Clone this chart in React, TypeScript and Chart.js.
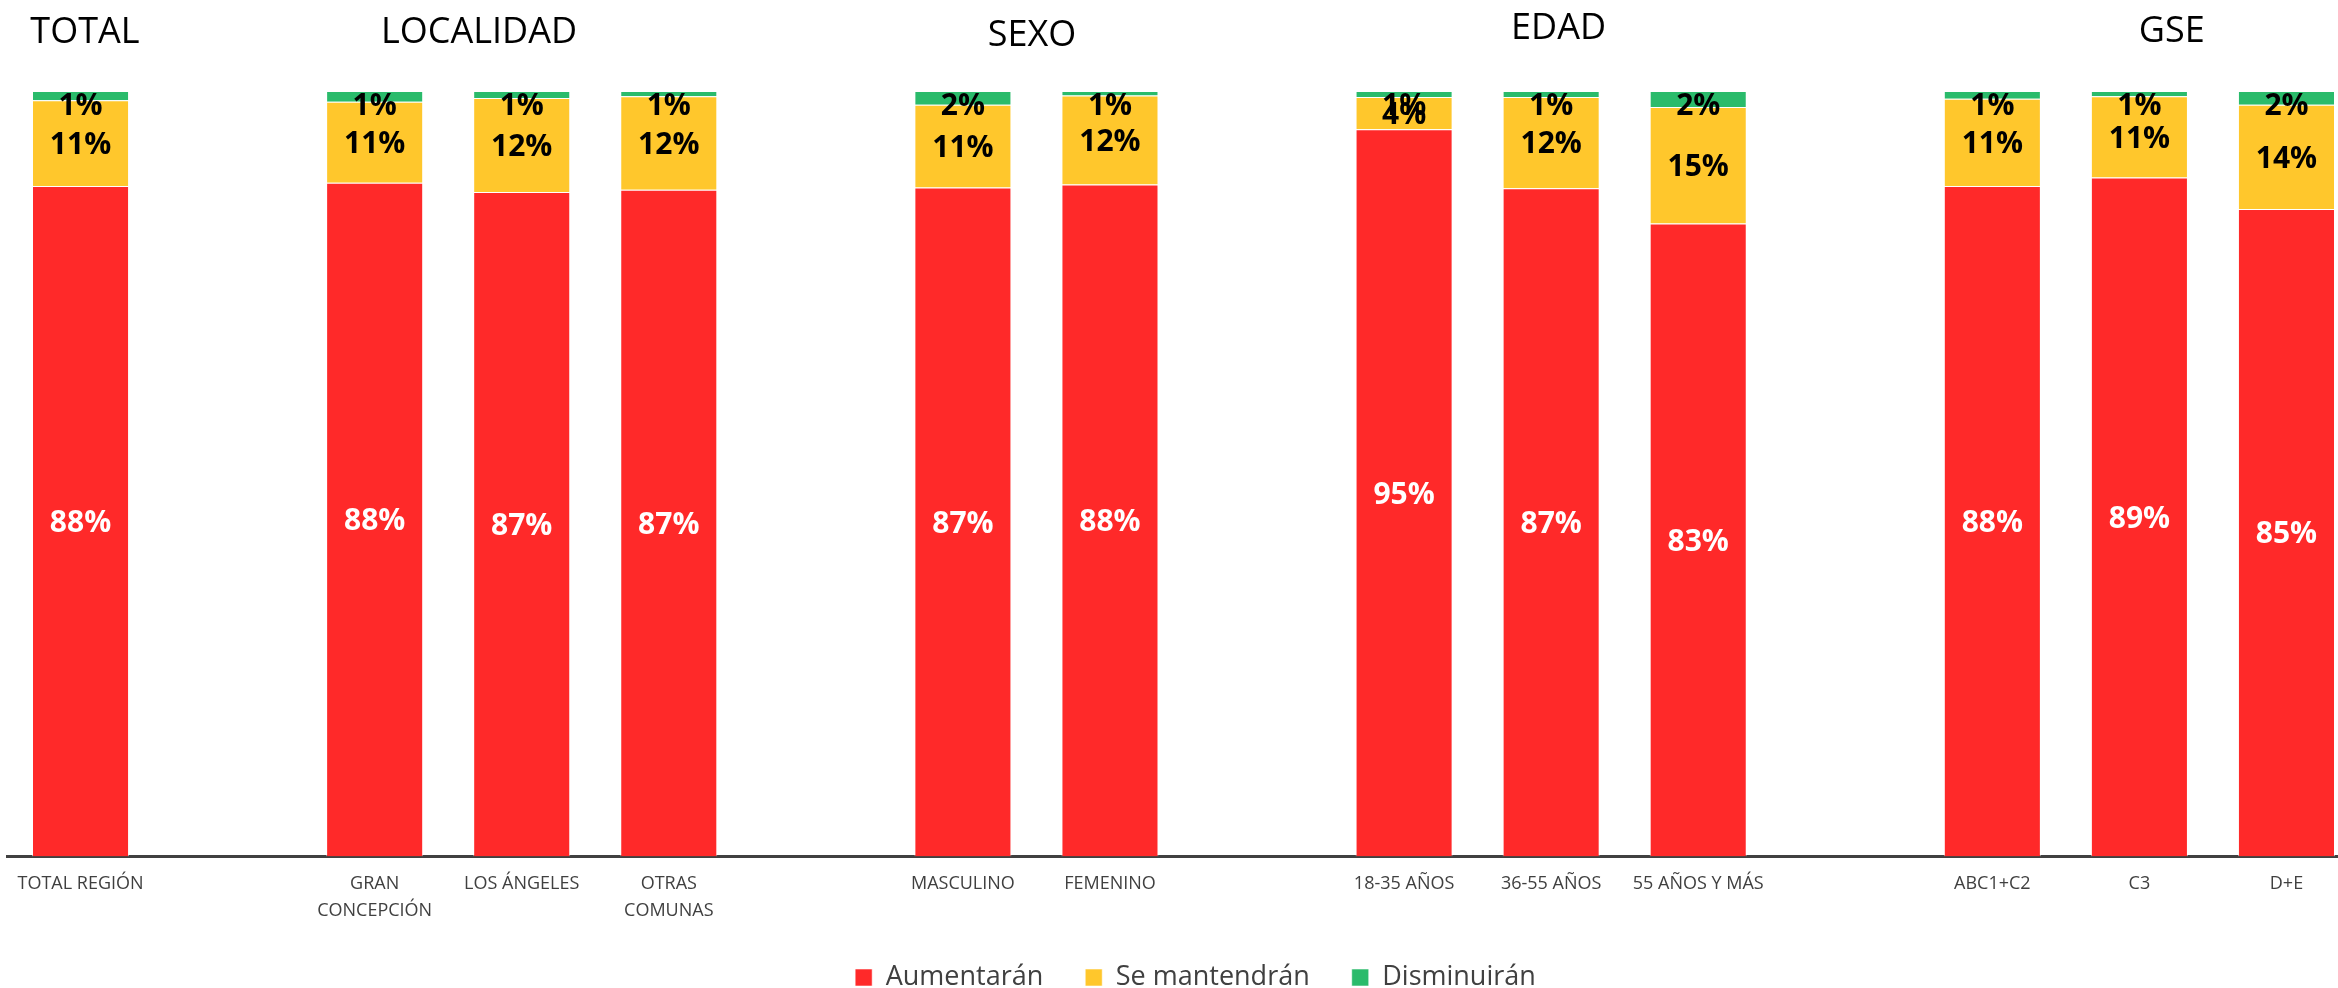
import React, { useEffect, useRef } from 'react';
import { Chart, registerables } from 'chart.js';

Chart.register(...registerables);

// ---------- DATA ----------
const categories: (string | string[])[] = [
  'TOTAL REGIÓN', '', ['GRAN', 'CONCEPCIÓN'], 'LOS ÁNGELES', ['OTRAS', 'COMUNAS'], '',
  'MASCULINO', 'FEMENINO', '', '18-35 AÑOS', '36-55 AÑOS', '55 AÑOS Y MÁS', '',
  'ABC1+C2', 'C3', 'D+E',
];
const aumentaran = [87.6, null, 88.0, 86.8, 87.1, null, 87.4, 87.8, null, 95.0, 87.3, 82.7, null, 87.6, 88.7, 84.6];
const seMantendran = [11.2, null, 10.6, 12.3, 12.2, null, 10.8, 11.6, null, 4.2, 11.9, 15.2, null, 11.4, 10.6, 13.6];
const disminuiran = [1.2, null, 1.4, 0.9, 0.7, null, 1.8, 0.6, null, 0.8, 0.8, 2.1, null, 1.0, 0.7, 1.8];
const seriesNames = ['Aumentarán', 'Se mantendrán', 'Disminuirán'];
const groupTitles = ['TOTAL', 'LOCALIDAD', 'SEXO', 'EDAD', 'GSE'];

// ---------- LAYOUT / STYLE ----------
const COLORS = ['#FF2929', '#FFC72C', '#2ABB6B'];
const FONT = '"Open Sans", "Noto Sans", sans-serif';
// title anchors (category units) and baselines
const titleAnchors = [0.03, 2.71, 6.47, 10.05, 14.22];
const titleBaselines = [43, 43, 46, 39, 42];

const titlePlugin = {
  id: 'groupTitles',
  afterDraw(chart: any) {
    const ctx = chart.ctx;
    const xs = chart.scales.x;
    ctx.save();
    ctx.font = `36px ${FONT}`;
    ctx.fillStyle = '#000000';
    ctx.textAlign = 'center';
    ctx.textBaseline = 'alphabetic';
    groupTitles.forEach((t, i) => {
      ctx.fillText(t, xs.getPixelForValue(titleAnchors[i]), titleBaselines[i]);
    });
    ctx.restore();
  },
};

const segLabelPlugin = {
  id: 'segLabels',
  afterDatasetsDraw(chart: any) {
    const ctx = chart.ctx;
    const top = chart.chartArea.top;
    ctx.save();
    ctx.font = `bold 30px ${FONT}`;
    ctx.textAlign = 'center';
    ctx.textBaseline = 'alphabetic';
    chart.data.datasets.forEach((ds: any, di: number) => {
      const meta = chart.getDatasetMeta(di);
      meta.data.forEach((el: any, i: number) => {
        const v = ds.data[i];
        if (v == null) return;
        const p = el.getProps(['x', 'y', 'base'], true);
        let cy = (p.y + p.base) / 2;
        cy = Math.max(cy, top + 13);
        ctx.fillStyle = di === 0 ? '#FFFFFF' : '#000000';
        ctx.fillText(Math.round(v) + '%', p.x, cy + 10.7);
      });
    });
    ctx.restore();
  },
};

const legendShiftPlugin = {
  id: 'legendShift',
  afterLayout(chart: any) {
    const l = chart.legend;
    if (l) {
      l.left += 12;
      l.right += 12;
      l.top -= 2.5;
      l.bottom -= 2.5;
    }
  },
};

export default function App() {
  const ref = useRef<HTMLCanvasElement | null>(null);

  useEffect(() => {
    if (!ref.current) return;
    const series = [aumentaran, seMantendran, disminuiran];
    const chart = new Chart(ref.current, {
      type: 'bar',
      data: {
        labels: categories,
        datasets: series.map((d, i) => ({
          label: seriesNames[i],
          data: d,
          backgroundColor: COLORS[i],
          borderColor: 'rgba(255,255,255,0.55)',
          borderWidth: 1,
          barPercentage: 0.66,
          categoryPercentage: 1,
        })),
      },
      options: {
        responsive: false,
        animation: false,
        devicePixelRatio: 1,
        layout: { padding: { top: 91, left: 7, right: 2, bottom: -15.5 } },
        plugins: {
          tooltip: { enabled: false },
          legend: {
            position: 'bottom',
            labels: {
              boxWidth: 17,
              boxHeight: 17,
              padding: 42,
              color: '#404040',
              font: { family: FONT, size: 27 },
            },
          },
        },
        scales: {
          x: {
            stacked: true,
            offset: true,
            grid: { display: false, drawTicks: false },
            border: { display: true, color: '#404040', width: 3 },
            ticks: {
              autoSkip: false,
              maxRotation: 0,
              minRotation: 0,
              padding: 14,
              color: '#404040',
              font: { family: FONT, size: 18, lineHeight: 1.5 },
            },
            afterFit: (s: any) => {
              s.height = 68;
            },
          },
          y: {
            stacked: true,
            display: false,
            min: 0,
            max: 100,
          },
        },
      },
      plugins: [segLabelPlugin, titlePlugin, legendShiftPlugin],
    } as any);
    return () => chart.destroy();
  }, []);

  return (
    <div
      style={{
        position: 'absolute',
        left: 0,
        top: 0,
        width: 2338,
        height: 988,
        overflow: 'hidden',
        background: '#ffffff',
      }}
    >
      <canvas ref={ref} width={2362} height={988} style={{ display: 'block' }} />
    </div>
  );
}
